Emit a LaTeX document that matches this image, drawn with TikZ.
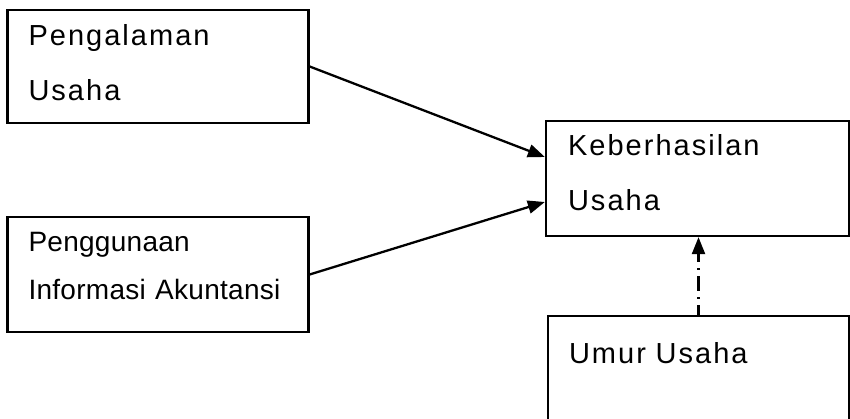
\documentclass[tikz,border=0pt]{standalone}
\usepackage{fontspec}
\setmainfont{Liberation Sans}
\usetikzlibrary{arrows.meta}
\begin{document}
\begin{tikzpicture}[x=1pt,y=-1pt,
  kotak/.style={draw,line width=2.3pt,rectangle,align=left,inner ysep=0pt,inner xsep=21pt,text width=259pt,text height=22pt},
  teks/.style={font=\fontsize{29}{55}\selectfont\addfontfeature{LetterSpace=7}},
  teksrapat/.style={font=\fontsize{28}{48}\selectfont\addfontfeature{LetterSpace=1}},
  panah/.style={line width=2.3pt,-{Triangle[length=17pt,width=13pt]}}]
\useasboundingbox (0,0) rectangle (850,419);
\clip (0,0) rectangle (850,419);

\node[kotak,teks,minimum width=300pt,minimum height=113pt,text depth=63pt] (pengalaman) at (158,66.5) {Pengalaman\\Usaha};
\node[kotak,teksrapat,minimum width=300pt,minimum height=115pt,text depth=67.6pt] (informasi) at (158,274.5) {Penggunaan\\Informasi Akuntansi};
\node[kotak,teks,minimum width=303pt,minimum height=115pt,text depth=67pt] (keberhasilan) at (697.5,178.5) {Keberhasilan\\Usaha};
\node[kotak,teks,minimum width=301pt,minimum height=172pt,text depth=100pt] (umur) at (698.5,402) {Umur Usaha};

\draw[panah] (pengalaman.east) -- ([yshift=21.5pt]keberhasilan.west);
\draw[panah] (informasi.east) -- ([yshift=-23.5pt]keberhasilan.west);
%garis putus-putus
\draw[panah,dash pattern=on 15pt off 6pt on 2pt off 6pt,dash phase=5pt] (umur.north) -- (umur.north |- keberhasilan.south);
\end{tikzpicture}
\end{document}
